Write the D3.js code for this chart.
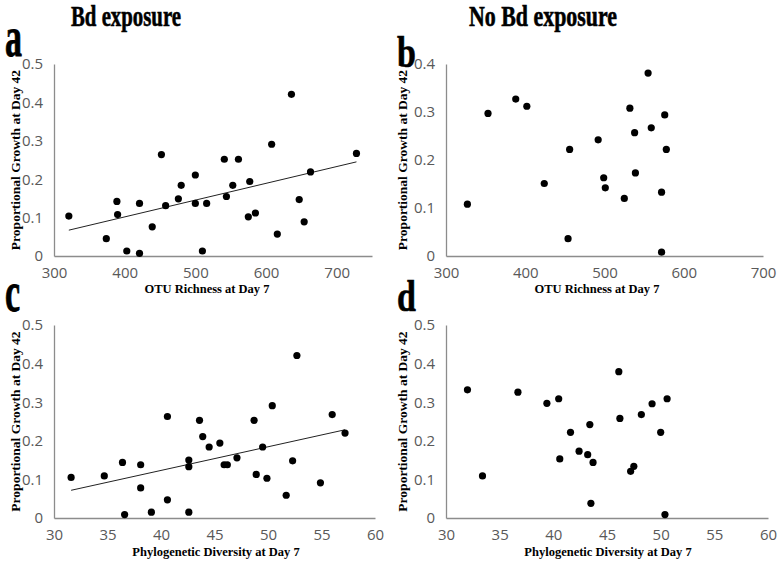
<!DOCTYPE html>
<html>
<head>
<meta charset="utf-8">
<script src="https://cdn.jsdelivr.net/npm/d3@7"></script>
<style>
  html, body { margin: 0; padding: 0; background: #ffffff; }
  svg { display: block; }
</style>
</head>
<body>
<svg id="chart" width="777" height="570"></svg>
<script>
// ---------------- DATA ----------------
// Panel a: Bd exposure, OTU richness vs growth
const bdOtuRichness = [321, 374, 389, 390, 403, 421, 421, 439, 452, 458, 476, 480, 500, 500, 510, 516, 541, 544, 553, 561, 575, 577, 585, 608, 616, 636, 647, 654, 663, 728];
const bdOtuGrowth   = [0.104, 0.045, 0.142, 0.108, 0.013, 0.137, 0.007, 0.076, 0.264, 0.131, 0.149, 0.184, 0.211, 0.137, 0.013, 0.137, 0.252, 0.155, 0.184, 0.252, 0.102, 0.194, 0.112, 0.291, 0.057, 0.421, 0.147, 0.089, 0.219, 0.267];

// Panel b: No Bd exposure, OTU richness vs growth
const noBdOtuRichness = [327, 353, 388, 402, 424, 454, 456, 492, 499, 501, 525, 532, 538, 539, 555, 559, 572, 572, 576, 578];
const noBdOtuGrowth   = [0.108, 0.297, 0.327, 0.312, 0.151, 0.036, 0.222, 0.242, 0.163, 0.142, 0.120, 0.308, 0.257, 0.173, 0.381, 0.267, 0.133, 0.008, 0.294, 0.222];

// Panel c: Bd exposure, phylogenetic diversity vs growth
const bdPhyloDiversity = [31.6, 34.7, 36.4, 36.6, 38.1, 38.1, 39.1, 40.6, 40.6, 42.6, 42.6, 42.6, 43.6, 43.9, 44.5, 45.5, 45.9, 46.2, 47.1, 48.7, 48.9, 49.5, 49.9, 50.4, 51.7, 52.3, 52.7, 54.9, 56.0, 57.2];
const bdPhyloGrowth    = [0.105, 0.109, 0.144, 0.009, 0.138, 0.078, 0.015, 0.047, 0.263, 0.150, 0.133, 0.015, 0.253, 0.211, 0.184, 0.194, 0.138, 0.138, 0.156, 0.253, 0.113, 0.184, 0.103, 0.291, 0.059, 0.148, 0.421, 0.091, 0.268, 0.220];

// Panel d: No Bd exposure, phylogenetic diversity vs growth
const noBdPhyloDiversity = [32.0, 33.4, 36.7, 39.4, 40.5, 40.6, 41.6, 42.4, 43.2, 43.4, 43.5, 43.7, 46.1, 46.2, 47.2, 47.5, 48.2, 49.2, 50.0, 50.4, 50.6];
const noBdPhyloGrowth    = [0.332, 0.109, 0.326, 0.297, 0.309, 0.153, 0.222, 0.173, 0.164, 0.242, 0.038, 0.144, 0.379, 0.258, 0.121, 0.134, 0.268, 0.296, 0.222, 0.009, 0.309];

// Tick labels
const otuTicks = [300, 400, 500, 600, 700];
const pdTicks = [30, 35, 40, 45, 50, 55, 60];
const growthTicks5 = [0, 0.1, 0.2, 0.3, 0.4, 0.5];
const growthTicks4 = [0, 0.1, 0.2, 0.3, 0.4];

// Text
const columnTitles = ["Bd exposure", "No Bd exposure"];
const panelLetters = ["a", "b", "c", "d"];
const yTitle = "Proportional Growth at Day 42";
const otuTitle = "OTU Richness at Day 7";
const pdTitle = "Phylogenetic Diversity at Day 7";

// ---------------- LAYOUT ----------------
const panels = [
  { letter: panelLetters[0], xs: bdOtuRichness, ys: bdOtuGrowth, xDomain: [300, 750], xTicks: otuTicks,
    yDomain: [0, 0.5], yTicks: growthTicks5, left: 54, right: 372, top: 64, bottom: 256,
    xTitle: otuTitle, xTitleX: 207, xTitleY: 293, yTitleX: 20, trend: true,
    letterX: 5, letterY: 56, letterScaleY: 1.45 },
  { letter: panelLetters[1], xs: noBdOtuRichness, ys: noBdOtuGrowth, xDomain: [300, 700], xTicks: otuTicks,
    yDomain: [0, 0.4], yTicks: growthTicks4, left: 446, right: 763, top: 64, bottom: 256,
    xTitle: otuTitle, xTitleX: 597, xTitleY: 293, yTitleX: 407, trend: false,
    letterX: 397, letterY: 67, letterScaleY: 1.1 },
  { letter: panelLetters[2], xs: bdPhyloDiversity, ys: bdPhyloGrowth, xDomain: [30, 60], xTicks: pdTicks,
    yDomain: [0, 0.5], yTicks: growthTicks5, left: 54, right: 375, top: 325, bottom: 518,
    xTitle: pdTitle, xTitleX: 216, xTitleY: 556, yTitleX: 20, trend: true,
    letterX: 5, letterY: 311, letterScaleY: 1.45 },
  { letter: panelLetters[3], xs: noBdPhyloDiversity, ys: noBdPhyloGrowth, xDomain: [30, 60], xTicks: pdTicks,
    yDomain: [0, 0.5], yTicks: growthTicks5, left: 446, right: 768, top: 325, bottom: 518,
    xTitle: pdTitle, xTitleX: 608, xTitleY: 556, yTitleX: 407, trend: false,
    letterX: 397, letterY: 311, letterScaleY: 1.1 }
];

const svg = d3.select("#chart");
const serif = "'Liberation Serif', 'Times New Roman', serif";
const sans = "'Open Sans', 'Liberation Sans', sans-serif";
const axisColor = "#8c8c8c";
const tickColor = "#595959";

// Column titles
const titleSpecs = [
  { text: columnTitles[0], cx: 126, width: 110 },
  { text: columnTitles[1], cx: 543, width: 148 }
];
titleSpecs.forEach(t => {
  svg.append("text")
    .attr("x", t.cx - t.width / 2)
    .attr("y", 26)
    .attr("font-family", serif)
    .attr("font-weight", "bold")
    .attr("font-size", 30)
    .attr("textLength", t.width)
    .attr("lengthAdjust", "spacingAndGlyphs")
    .attr("fill", "#000")
    .attr("stroke", "#000")
    .attr("stroke-width", 0.6)
    .text(t.text);
});

function linreg(xs, ys) {
  const n = xs.length;
  const mx = d3.mean(xs), my = d3.mean(ys);
  let sxy = 0, sxx = 0;
  for (let i = 0; i < n; i++) { sxy += (xs[i] - mx) * (ys[i] - my); sxx += (xs[i] - mx) ** 2; }
  const b = sxy / sxx;
  return { b, a: my - b * mx };
}

panels.forEach(p => {
  const x = d3.scaleLinear().domain(p.xDomain).range([p.left, p.right]);
  const y = d3.scaleLinear().domain(p.yDomain).range([p.bottom, p.top]);
  const g = svg.append("g");

  // x axis
  const xAxis = g.append("g")
    .attr("transform", `translate(0,${p.bottom})`)
    .call(d3.axisBottom(x).tickValues(p.xTicks).tickSize(0).tickPadding(11).tickFormat(d => String(d)));
  xAxis.select(".domain").attr("stroke", axisColor).attr("stroke-width", 1.3);
  xAxis.selectAll("text").attr("font-family", sans).attr("font-size", 15).attr("fill", tickColor);

  // y axis
  const yAxis = g.append("g")
    .attr("transform", `translate(${p.left},0)`)
    .call(d3.axisLeft(y).tickValues(p.yTicks).tickSize(0).tickPadding(11).tickFormat(d => String(d)));
  yAxis.select(".domain").attr("stroke", axisColor).attr("stroke-width", 1.3);
  yAxis.selectAll("text").attr("font-family", sans).attr("font-size", 15).attr("fill", tickColor);

  // trend line
  if (p.trend) {
    const r = linreg(p.xs, p.ys);
    const x0 = d3.min(p.xs), x1 = d3.max(p.xs);
    g.append("line")
      .attr("x1", x(x0)).attr("y1", y(r.a + r.b * x0))
      .attr("x2", x(x1)).attr("y2", y(r.a + r.b * x1))
      .attr("stroke", "#222").attr("stroke-width", 1);
  }

  // points
  g.selectAll("circle.pt")
    .data(p.xs.map((v, i) => [v, p.ys[i]]))
    .join("circle")
    .attr("class", "pt")
    .attr("cx", d => x(d[0]))
    .attr("cy", d => y(d[1]))
    .attr("r", 3.6)
    .attr("fill", "#000");

  // x title
  g.append("text")
    .attr("x", p.xTitleX).attr("y", p.xTitleY)
    .attr("text-anchor", "middle")
    .attr("font-family", serif).attr("font-weight", "bold").attr("font-size", 12.5)
    .attr("fill", "#000")
    .text(p.xTitle);

  // y title
  g.append("text")
    .attr("transform", `translate(${p.yTitleX},${(p.top + p.bottom) / 2}) rotate(-90)`)
    .attr("text-anchor", "middle")
    .attr("font-family", serif).attr("font-weight", "bold").attr("font-size", 13.5)
    .attr("fill", "#000")
    .text(yTitle);

  // panel letter
  g.append("text")
    .attr("transform", `translate(${p.letterX},${p.letterY}) scale(0.85,${p.letterScaleY})`)
    .attr("font-family", serif).attr("font-weight", "bold").attr("font-size", 40)
    .attr("fill", "#000")
    .attr("stroke", "#000").attr("stroke-width", 0.6)
    .text(p.letter);
});
</script>
</body>
</html>
